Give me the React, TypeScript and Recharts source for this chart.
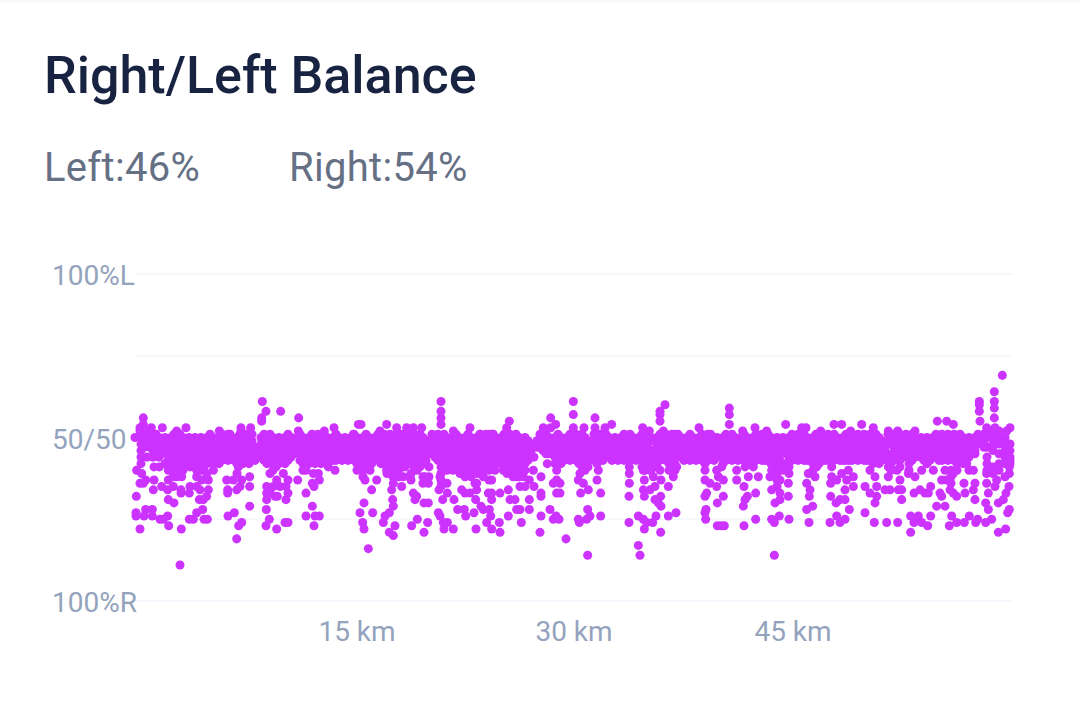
import React from 'react';
import { ScatterChart, Scatter, XAxis, YAxis, ZAxis, CartesianGrid } from 'recharts';

const title = 'Right/Left Balance';
const leftLabel = 'Left:46%';
const rightLabel = 'Right:54%';
const yTickValues = [0, 25, 50, 75, 100];
const yTickLabels: Record<number, string> = { 0: '100%R', 50: '50/50', 100: '100%L' };
const xTickSamples = [1071, 1722, 2379];
const xTickLabels: Record<number, string> = { 1071: '15 km', 1722: '30 km', 2379: '45 km' };

// each column: sample, then the left-% readings in that column
const bandA: number[][] = [
[405,50],[423,50,48,46,44,42],[441,50,48,44],[459,50,48,46,44],[477,50,48,46,44],[495,50,48,46,42],
[513,50,48,46,44,42,40],[531,50,48,46,44,42,40,38],[549,50,48,46,44,42,40],[567,50,48,46,44],[585,50,48,46,44,42],
[603,50,48,46,44,42,40],[621,50,48,46,44,42],[639,50,48,46,44,42],[657,50,48,46,44,42],[675,50,48,46,44],
[693,50,48,46,44],[711,50,48,46,44,42,39],[729,50,48,46,44,42],[747,50,48,46,44,42],[765,47,45,43],
[783,50,48,46,44],[801,50,48,46,44,42],[819,50,48,46,44,42,40],[837,50,48,46,44,42],[855,50,48,46,44,42],
[873,50,48,46,44],[891,50,48,46],[909,50,48,46,44,42,40],[927,50,48,46,44,42],[945,50,48,46,44,42],
[963,50,48,46,44,42],[981,50,48,46,44,42],[999,50,48,46,44,43],[1017,50,48,46,44],[1035,50,48,46,44],
[1053,50,48,46,44],[1071,50,48,46,44,42,40],
];
const fillA: number[][] = [
[432,51,49,47],[450,49,47],[468,51,49,47,45],[486,49,47,45],[504,49,47,45,43],[522,51,49,47,45,43,41],[540,51,49,47,45,43,41],[558,49,47,45,43],
[576,49,47,45,43],[594,49,47,45,43],[612,49,47,45,43,41],[630,51,49,47,45,43],[648,49,47,45,43],[666,51,49,47,45,43],[684,51,49,47,45,43],[702,49,47,45,43],
[720,51,49,47,45,43],[738,51,49,47,45,43],[756,51,49,47,45],[792,51,49,47,45,43],[810,49,47,45,43],[828,49,47,45,43,41],[846,49,47,45,43],[864,51,49,47,45,43],
[882,49,47,45],[900,51,49,47,45,43],[918,49,47,45,43],[936,51,49,47,45,43],[954,51,49,47,45,43],[972,51,49,47,45,43],[990,49,47,45,43],[1008,51,49,47,45,43],
[1026,49,47,45,43],[1044,49,47,45,43],[1062,51,49,47,45,43],
];
const bandB: number[][] = [
[9,50,48,46,44,42,40,38],[27,50,48,46,44,42],[45,50,48,46,44],[63,50,48,46,44,42],[81,50,48,46,44,41,39],
[99,50,48,46,44,42,40,38],[117,50,48,46,44,42,40,38],[135,50,48,46,43,41],[153,50,48,46,44,42,39,37],[171,50,48,46,44,42,40],
[189,50,48,46,44,42,38,36],[207,49,47,45,41,38],[225,50,48,46,44],[243,50,48,46,43,41,39,37,35],[261,50,48,46,44,42,40,36],
[279,50,48,46,44,42,40],[297,50,48,46,44,42,40],[315,50,48,46,44,42,40,38],[333,50,48,46,44,42,40,38],[351,50,48,46,44,42,39],
[369,50,48,46,44,42,40],[387,50,48,46,44,42,40,37],[405,50,48,46,44,42,40],[423,50,48,46,44,42],[441,50,48,46,43,41,39],
[459,50,48,46,44,42,40,38],[477,50,48,46,44,42,40,38],[495,50,48,46,44,42,40],[513,48,46,44],[531,49,47],
[549,50,48,46],[567,50,48,46,45],[585,50,48,46,44,42],[603,50,48,46,44,42],[621,50,48,46,44],
[639,50,48,46,44],[657,50,48,46,44,42],[675,50,48,46,44,42,40],[693,48,46,44],[711,50,48,46,44,42],
[729,50,48,46,44,43],[747,50,48,46,44],[765,50,48,46,44],[783,50,48,46,44],[801,50,48,46,44],
[819,50,48,46,44],[837,50,48,46,44],[855,50,47,44,42,40],[873,50,46,44,42,40],[891,50,47,45,43,41],
[909,50,48,46,44],[927,50,48,46,44,42,40],[945,50,48,46,44,42,40],[963,50,48,46,44],[981,50,48,46,44],
[999,50,48,46,44],[1017,50,48,46,44],[1035,50,48,46,44,42],[1053,50,48,46,44],[1071,50,48,46,44],
];
const fillB: number[][] = [
[18,51,49,47,45,43,41],[36,49,47,45,43],[54,51,49,47,45,43],[72,51,49,47,45,43],[90,51,49,47,45,43,41],[108,51,49,47,45,43,41],[126,51,49,47,45,43],[144,51,49,47,45,43],
[162,51,49,47,45,43,41],[180,51,49,47,45,43,41],[198,49,47,45,43],[216,51,49,47,45],[234,51,49,47,45,43],[252,51,49,47,45,43,41],[270,49,47,45,43,41],[288,51,49,47,45,43,41],
[306,49,47,45,43,41],[324,51,49,47,45,43,41],[342,49,47,45,43,41],[360,51,49,47,45,43,41],[378,51,49,47,45,43,41],[396,51,49,47,45,43,41],[414,49,47,45,43],[432,51,49,47,45,43],
[450,51,49,47,45,43,41],[468,51,49,47,45,43,41],[486,49,47,45,43,41],[504,49,47,45,43],[540,51,49,47],[558,51,49,47,45],[576,49,47,45],[594,51,49,47,45,43],
[612,49,47,45,43],[630,51,49,47,45,43],[648,51,49,47,45,43],[666,51,49,47,45,43,41],[684,49,47,45,43,41],[702,51,49,47,45,43],[720,51,49,47,45,43],[738,51,49,47,45],
[756,49,47,45,43],[774,49,47,45,43],[792,51,49,47,45,43],[810,51,49,47,45,43],[828,49,47,45,43],[846,51,49,45,43,41],[864,51,48,45,43,41],[882,49,46,44,42],
[900,51,49,47,45,43],[918,51,49,47,45,43],[936,51,49,47,45,43],[954,51,49,47,45],[972,49,47,45,43],[990,51,49,47,45,43],[1008,49,47,45,43],[1026,51,49,47,45,43],
[1044,51,49,47,45,43],[1062,49,47,45,43],
];
const bandC: number[][] = [
[9,50,48,46,44,42],[27,50,48,46,44],[45,50,48,46,44],[63,50,48,46,44],[81,50,48,46,44],[99,50,48,46,44,42],
[117,50,48,46,44],[135,50,48,46,44,43],[153,50,48,46,44,42],[171,50,48,46,43,41,39,37,35],[189,50,48,46,42,40],[207,50,47,45,43],
[225,50,48,46,44],[243,50,48,46,44],[261,50,48,46,43],[279,50,48,46,44,42,40],[297,50,48,46,44,42],[315,49,47,45,43],
[333,50,48,46,44],[351,50,48,46,44],[369,50,48,46,43],[387,50,48,46,43],[405,50,48,46,44],[423,50,48,46,44],
[441,50,48,46,43],[459,50,48,46,44,42],[477,50,48,46,44,42],[495,47,45],[513,50,48,44,42,40],[531,50,48,46,44,40],
[549,50,48,46,44],[567,50,48,46,44,42,40],[585,50,48,46,44],[603,50,48,46,44],[621,50,48,46,44,42],[639,50,48,46,44],
[657,50,48,46,45,43],[675,50,48,46,44,40],[693,50,48,46,44,40,38,36],[711,50,48,46,44,42,40],[729,50,48,46,44,42],[747,50,48,46,44,40],
[765,50,48,46,45],[783,50,48],[801,52,50,47,44,42,40],[819,52,50,48,46,41,39],[837,52,50,48,45,42,40],[855,50,48,46,44,42],[870,48,46,44,42],
];
const fillC: number[][] = [
[18,51,49,47,45,43],[36,51,49,47,45,43],[54,49,47,45,43],[72,51,49,47,45,43],[90,49,47,45,43],[108,51,49,47,45,43],[126,51,49,47,45,43],[144,51,49,47,45,43],
[162,49,47,45,43],[180,49,47,45,43],[198,49,47,45],[216,51,49,47,45,43],[234,51,49,47,45,43],[252,51,49,47,45,43],[270,49,47,45,43],[288,51,49,47,45,43],
[306,51,49,47,45,43],[324,51,49,47,45,43],[342,51,49,47,45,43],[360,49,47,45,43],[378,51,49,47,45,43],[396,51,49,47,45,43],[414,51,49,47,45,43],[432,51,49,47,45,43],
[450,51,49,47,45,43],[468,51,49,47,45,43],[486,49,47,45,43],[504,51,49,45,43],[522,51,49,47,45,43],[540,51,49,47,45,43],[558,51,49,47,45],[576,51,49,47,45,43],
[594,49,47,45],[612,49,47,45,43],[630,49,47,45,43],[648,51,49,47,45],[666,51,49,47,45,43],[684,51,49,47,45,43],[702,51,49,47,45,43],[720,51,49,47,45,43],
[738,49,47,45,43],[756,49,47,45],[774,51,49],[792,51,49,47],
];

const spikesA: number[][] = [
[787,61],[798,58],[785,56],[785,55],[842,58],[896,56],[430,56],[430,54],[454,53],[487,53],[530,52],[558,53],[658,52],[723,53],[723,52],
[752,53],[752,51],[895,52],[973,52],[1002,53],[1075,54],[1060,51],[420,53],[420,52],[445,52],[690,51],[810,51],
];
const lowerA: number[][] = [
[540,11],[420,22],[544,22],[506,23],[710,19],[716,23],[725,24],[798,23],[830,22],[808,25],[855,24],[864,24],[942,23],[918,26],[945,26],[958,26],
[937,29],[799,28],[749,29],[408,26],[408,27],[432,26],[437,28],[457,28],[457,26],[480,25],[490,25],[503,26],[568,25],[580,25],[590,27],[608,28],
[612,25],[622,25],[684,26],[703,27],[409,32],[505,31],[522,30],[598,31],[610,31],[620,32],[460,34],[485,35],[503,34],[520,35],[543,34],[543,33],
[568,33],[570,35],[590,35],[600,34],[625,34],[683,34],[683,33],[680,37],[710,34],[720,35],[700,37],[725,37],[749,38],[749,35],[800,35],[800,33],
[800,31],[810,33],[825,32],[832,32],[820,35],[840,35],[858,35],[858,31],[864,33],[864,37],[893,37],[918,33],[942,35],[937,36],[958,37],[955,39],
[940,39],[918,40],[410,40],[425,39],[420,36],[437,37],[430,36],[462,37],[462,41],[478,41],[505,37],[505,40],[520,38],[520,40],[545,38],[545,41],
[570,41],[590,38],[590,40],[605,37],[625,37],[620,39],[640,40],[715,41],[810,39],[830,37],[850,39],[1005,40],[985,41],
];
const spikesB: number[][] = [
[243,61],[243,58],[243,56],[243,54],[80,54],[110,53],[140,53],[160,53],[185,53],[330,53],[448,55],[440,53],[572,56],[572,53],[587,54],[640,61],
[640,57],[640,53],[705,56],[705,53],[672,53],[755,54],[735,53],[848,53],[915,60],[900,58],[900,57],[900,55],[910,52],[868,52],[945,51],[1017,53],
[1052,51],[60,52],[3,54],[280,52],[360,51],[550,53],[390,51],[400,51],
];
const lowerB: number[][] = [
[25,16],[835,17],[840,14],[683,14],[618,19],[540,21],[420,21],[902,21],[853,22],[100,20],[88,21],[192,21],[12,22],[252,22],[280,22],[348,22],
[395,22],[70,24],[105,23],[155,23],[172,25],[203,24],[262,24],[240,26],[235,27],[250,24],[380,24],[418,24],[484,24],[807,24],[878,24],[658,24],
[655,25],[680,25],[690,26],[683,28],[597,25],[580,25],[588,26],[570,28],[543,26],[445,26],[392,26],[342,27],[317,26],[293,28],[313,28],[363,29],
[370,28],[388,28],[470,28],[480,28],[508,28],[38,27],[75,26],[88,27],[100,29],[98,31],[165,31],[192,30],[205,30],[248,31],[282,31],[347,31],
[395,31],[450,31],[465,31],[508,31],[835,26],[850,25],[860,24],[888,26],[925,26],[948,27],[722,26],[1035,27],[1037,25],[1038,28],[1072,23],[1072,30],
[903,29],[895,30],[902,32],[885,31],[853,32],[807,32],[722,33],[685,34],[662,33],[590,33],[600,33],[543,33],[543,32],[522,35],[480,35],[495,35],
[445,34],[420,33],[385,33],[395,33],[315,33],[330,33],[262,33],[237,34],[170,32],[160,33],[125,35],[95,34],[35,34],[12,30],[0,27],[8,24],
[850,34],[870,34],[885,35],[903,37],[925,35],[1035,32],[1040,33],[1035,37],[1050,36],[1070,35],[808,36],[711,37],[655,37],[670,36],[590,37],[580,36],
[600,36],[508,37],[543,38],[350,36],[350,34],[395,37],[345,36],[305,34],[245,36],[205,36],[195,38],[35,42],[100,36],[50,37],[15,37],[880,38],
[853,37],[808,41],[808,39],[940,38],[715,40],[660,39],[590,40],[562,42],[522,44],[520,40],[300,39],[370,38],[1035,40],[1070,40],[1075,38],[950,41],
[850,40],[900,40],[870,40],[430,40],[470,38],[490,38],[240,38],[110,39],[130,38],[150,38],[80,40],[30,40],
];
const spikesC: number[][] = [
[847,69],[823,64],[823,61],[823,59],[823,56],[778,61],[778,60],[778,58],[780,55],[28,59],[28,57],[28,54],[197,54],[68,52],[105,53],[140,52],
[245,53],[258,53],[302,52],[342,54],[365,54],[392,52],[425,54],[460,53],[505,52],[533,52],[585,52],[652,55],[680,55],[700,54],[870,53],[800,53],[825,53],[860,52],
];
const lowerC: number[][] = [
[163,14],[572,21],[835,21],[857,22],[13,23],[3,23],[72,23],[163,24],[155,25],[178,26],[107,25],[207,25],[267,24],[330,24],[360,24],[375,25],
[350,26],[463,24],[500,24],[533,24],[435,27],[572,26],[582,24],[595,26],[605,24],[623,23],[632,26],[688,23],[695,26],[710,24],[733,24],[748,26],
[767,24],[773,25],[797,24],[805,28],[815,25],[797,30],[863,27],[868,28],[260,28],[278,29],[388,28],[70,29],[75,31],[82,32],[107,33],[10,32],
[165,30],[180,31],[205,32],[268,32],[332,32],[348,30],[360,31],[375,31],[465,30],[470,32],[450,33],[545,31],[650,29],[675,29],[665,32],[660,33],
[765,31],[835,30],[850,31],[858,33],[867,35],[710,32],[735,33],[760,34],[615,33],[625,33],[582,33],[632,35],[600,34],[690,34],[700,33],[535,34],
[545,34],[495,34],[510,34],[435,35],[470,35],[375,34],[400,35],[155,34],[180,33],[205,36],[270,34],[260,36],[332,36],[72,35],[50,37],[10,37],
[825,35],[805,33],[800,36],[868,39],[868,41],[870,43],[855,38],[740,42],[760,40],[680,37],[665,37],[732,36],[765,36],[207,39],[207,41],[115,38],
[100,41],[75,41],[50,40],[85,38],[155,40],[180,41],[180,37],[150,38],[265,39],[290,41],[285,38],[335,41],[335,38],[350,37],[385,40],[400,38],
[365,39],[380,37],[465,38],[450,40],[505,41],[505,38],[540,41],[540,37],[565,39],[585,38],[605,40],[700,39],[640,40],[820,40],[800,39],[830,37],[5,41],
];

const fromColumns = (cols: number[][], start: number) =>
  cols.flatMap(([s, ...vals]) => vals.map((left) => ({ sample: s + start, left })));
const fromPairs = (pairs: number[][], start: number) =>
  pairs.map(([s, left]) => ({ sample: s + start, left }));

const points = [
  ...fromColumns(bandA, 0), ...fromColumns(fillA, 0), ...fromPairs(spikesA, 0), ...fromPairs(lowerA, 0),
  ...fromColumns(bandB, 1080), ...fromColumns(fillB, 1080), ...fromPairs(spikesB, 1080), ...fromPairs(lowerB, 1080),
  ...fromColumns(bandC, 2160), ...fromColumns(fillC, 2160), ...fromPairs(spikesC, 2160), ...fromPairs(lowerC, 2160),
];

const FONT = 'Roboto, sans-serif';
const TICK = '#94a3bd';

const YTick = (p: any) => (
  <text x={52} y={p.y} dy={11} fontFamily={FONT} fontSize={28} fill={TICK}>
    {yTickLabels[p.payload.value] ?? ''}
  </text>
);

export default function App() {
  return (
    <div style={{ position: 'absolute', left: 0, top: 0, width: 1080, height: 707, background: '#fff', overflow: 'hidden', fontFamily: FONT }}>
      <div style={{ position: 'absolute', left: 0, top: 0, width: 1080, height: 3, background: '#f8fafc' }} />
      <div style={{ position: 'absolute', left: 44, top: 46, fontSize: 52, fontWeight: 500, lineHeight: '60px', color: '#182341', whiteSpace: 'nowrap' }}>{title}</div>
      <div style={{ position: 'absolute', left: 44, top: 146, fontSize: 40, lineHeight: '44px', letterSpacing: 0.3, color: '#667085', whiteSpace: 'nowrap' }}>{leftLabel}</div>
      <div style={{ position: 'absolute', left: 289, top: 146, fontSize: 40, lineHeight: '44px', letterSpacing: 0.3, color: '#667085', whiteSpace: 'nowrap' }}>{rightLabel}</div>
      <div style={{ position: 'absolute', left: 0, top: 0 }}>
        <ScatterChart width={1080} height={707} margin={{ left: 52, right: 68, top: 274, bottom: 6 }}>
          <CartesianGrid vertical={false} stroke="#f4f7fb" strokeWidth={2} />
          <XAxis
            type="number"
            dataKey="sample"
            domain={[405, 3036]}
            ticks={xTickSamples}
            tickFormatter={(v: number) => xTickLabels[v]}
            tickLine={false}
            axisLine={false}
            height={100}
            interval={0}
            tick={{ fontFamily: FONT, fontSize: 28, fill: TICK }}
            tickMargin={14}
          />
          <YAxis
            type="number"
            dataKey="left"
            domain={[0, 100]}
            ticks={yTickValues}
            tick={YTick}
            tickLine={false}
            axisLine={false}
            width={83}
            interval={0}
          />
          <ZAxis range={[48, 48]} />
          <Scatter data={points} fill="#cc33ff" isAnimationActive={false} />
        </ScatterChart>
      </div>
    </div>
  );
}
